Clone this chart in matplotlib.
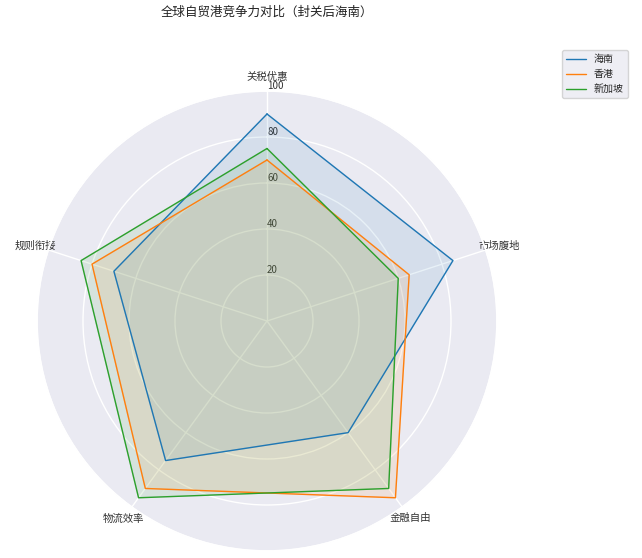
import numpy as np
import matplotlib
matplotlib.use("Agg")
import matplotlib.pyplot as plt
import seaborn as sns

sns.set_theme(style="darkgrid")
plt.rcParams['font.family'] = ['Noto Sans CJK SC', 'DejaVu Sans']
plt.rcParams['axes.unicode_minus'] = False

categories = ['关税优惠', '市场腹地', '金融自由', '物流效率', '规则衔接']
series_names = ['海南', '香港', '新加坡']
hainan = [90, 85, 60, 75, 70]
hongkong = [70, 65, 95, 90, 80]
singapore = [75, 60, 90, 95, 85]
r_ticks = [20, 40, 60, 80, 100]
r_tick_labels = ['20', '40', '60', '80', '100']
colors = ['#1f77b4', '#ff7f0e', '#2ca02c']
title = '全球自贸港竞争力对比（封关后海南）'

W, H = 642, 558
fig = plt.figure(figsize=(W / 100, H / 100), dpi=100)
ax = fig.add_axes([37 / W, 7 / H, 460 / W, 460 / H], projection='polar')
ax.set_theta_offset(np.pi / 2)
ax.set_theta_direction(-1)

n = len(categories)
angles = np.linspace(0, 2 * np.pi, n, endpoint=False).tolist()
angles_c = angles + angles[:1]

for name, vals, c in zip(series_names, [hainan, hongkong, singapore], colors):
    v = list(vals) + [vals[0]]
    ax.plot(angles_c, v, color=c, linewidth=1.0, label=name)
    ax.fill(angles_c, v, color=c, alpha=0.1)

ax.set_xticks(angles)
ax.set_xticklabels(categories, fontsize=7.5, color='#333333')
ax.set_ylim(0, 100)
ax.set_yticks(r_ticks)
ax.set_yticklabels(r_tick_labels, fontsize=7, color='#333333')
ax.set_rlabel_position(0)
ax.tick_params(axis='x', pad=-3)

ax.set_title(title, fontsize=9, y=(H - 12.7 - 7) / 460, pad=0, va='center', color='#222222')

leg = ax.legend(loc='upper left', bbox_to_anchor=(562 / W, 1 - 50 / H),
                bbox_transform=fig.transFigure, borderaxespad=0, fontsize=7.2,
                frameon=True)

fig.savefig('out.png', dpi=100)
